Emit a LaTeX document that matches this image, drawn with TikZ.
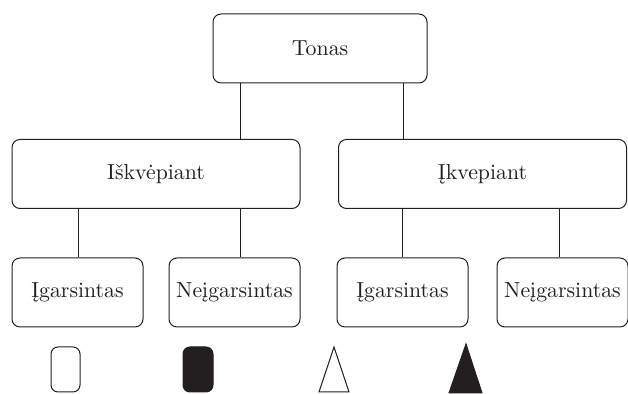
\documentclass[tikz,border=0pt]{standalone}
\usepackage{tikz}
\definecolor{ink}{RGB}{35,31,32}

\begin{document}
\begin{tikzpicture}%
        [x=0.5pt,
        y=-0.5pt,
        every node/.style={font=\fontsize{10.9}{13}\selectfont, text=ink},
        box/.style={draw=ink, line width=0.5pt, rounded corners=4pt, inner sep=0pt, minimum height=34.5pt},
        wide/.style={box, minimum width=144pt},
        leaf/.style={box, minimum width=65.5pt},
        link/.style={draw=ink, line width=0.5pt},
        sign/.style={draw=ink, line width=0.5pt, line join=miter}]

    \useasboundingbox (0,0) rectangle (628,394);

    %% Drawing the boxes
    \node[box, minimum width=107pt] (tonas) at (320,48.5) {Tonas};
    \node[wide] (isk) at (156,174) {Iškvėpiant};
    \node[wide] (ikv) at (482.5,174) {Įkvepiant};
    \node[leaf] (ig1) at (77.5,292.5) {Įgarsintas};
    \node[leaf] (nig1) at (234.5,292.5) {Neįgarsintas};
    \node[leaf] (ig2) at (402.5,292.5) {Įgarsintas};
    \node[leaf] (nig2) at (562.5,292.5) {Neįgarsintas};

    %% Drawing the links
    \draw[link] (tonas.south -| 240,0) -- (isk.north -| 240,0);
    \draw[link] (tonas.south -| 403,0) -- (ikv.north -| 403,0);
    \draw[link] (isk.south -| 78,0) -- (ig1.north -| 78,0);
    \draw[link] (isk.south -| 240,0) -- (nig1.north -| 240,0);
    \draw[link] (ikv.south -| 402,0) -- (ig2.north -| 402,0);
    \draw[link] (ikv.south -| 559,0) -- (nig2.north -| 559,0);

    %% Drawing the signs
    \draw[sign, rounded corners=3.5pt] (51,347) rectangle (80,392);
    \draw[sign, fill=ink, rounded corners=3.5pt] (183,347) rectangle (213,392);
    \draw[sign] (319,392) -- (334,347) -- (349,392) -- cycle;
    \draw[sign, fill=ink] (449,393) -- (466,344) -- (482,393) -- cycle;
\end{tikzpicture}
\end{document}
